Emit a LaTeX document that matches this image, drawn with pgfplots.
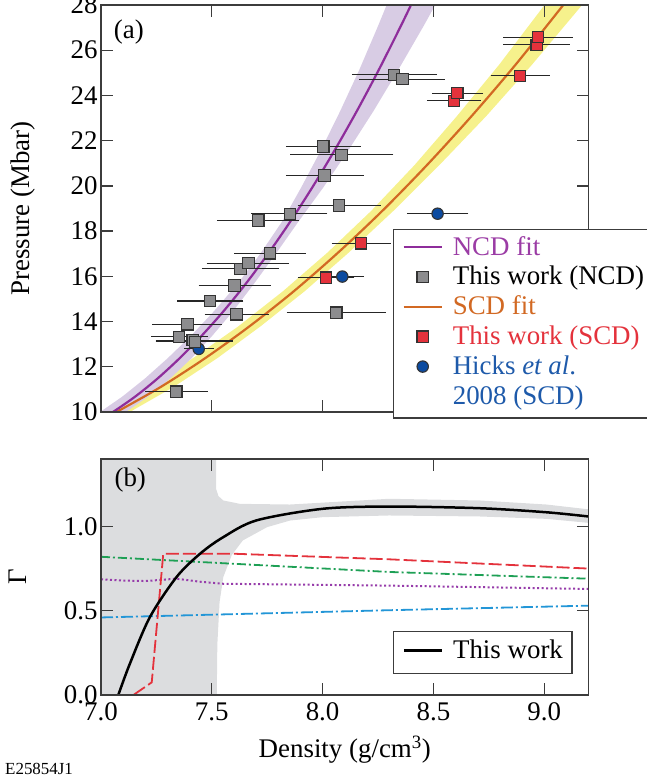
\documentclass[border=0pt]{standalone}
\usepackage{fontspec}
\setmainfont{Liberation Serif}
\usepackage{pgfplots}
\pgfplotsset{compat=1.18}
\usepackage{pgfplotstable}

\definecolor{ncd}{RGB}{142,45,155}
\definecolor{ncdtext}{RGB}{155,60,165}
\definecolor{ncdband}{RGB}{216,204,228}
\definecolor{scd}{RGB}{210,105,35}
\definecolor{scdband}{RGB}{246,241,140}
\definecolor{redA}{RGB}{228,50,60}
\definecolor{blueA}{RGB}{12,75,160}
\definecolor{bluetext}{RGB}{30,90,170}
\definecolor{sqgray}{RGB}{140,140,142}
\definecolor{bandgray}{RGB}{220,221,223}
\definecolor{greenA}{RGB}{30,160,85}
\definecolor{cyanA}{RGB}{35,150,215}
\definecolor{purpA}{RGB}{150,60,170}
\definecolor{axisgray}{RGB}{60,60,60}

\newcommand{\bigf}{\fontsize{27}{30}\selectfont}

\pgfplotstableread{
x y em ep
7.340 10.90 0.122 0.122
7.353 13.32 0.108 0.112
7.390 13.88 0.140 0.138
7.414 13.18 0.148 0.161
7.424 13.10 0.158 0.151
7.492 14.91 0.128 0.132
7.612 14.32 0.125 0.125
8.062 14.39 0.205 0.205
7.602 15.59 0.143 0.146
7.630 16.33 0.156 0.155
7.665 16.58 0.169 0.165
7.763 17.02 0.143 0.143
7.710 18.47 0.168 0.166
7.853 18.76 0.155 0.150
8.075 19.13 0.169 0.169
8.008 20.46 0.155 0.158
8.085 21.37 0.213 0.215
8.003 21.74 0.150 0.151
8.322 24.91 0.171 0.176
8.360 24.72 0.175 0.173
}\ncdtab

\pgfplotstableread{
x y em ep
8.015 15.94 0.109 0.109
8.173 17.46 0.113 0.116
8.593 23.76 0.104 0.102
8.608 24.10 0.096 0.098
8.891 24.87 0.114 0.116
8.966 26.24 0.131 0.131
8.972 26.58 0.137 0.137
}\scdtab

\pgfplotstableread{
x y em ep
7.441 12.79 0.047 0.051
8.089 15.99 0.080 0.080
8.519 18.77 0.120 0.120
}\hickstab

\begin{document}
\begin{tikzpicture}
\pgfplotsset{
  every axis/.append style={
    font=\bigf, scale only axis,
    axis line style={line width=1.3bp, draw=axisgray},
    major tick style={line width=1.3bp, draw=axisgray},
    major tick length=12bp, tick align=inside,
    xtick pos=both, ytick pos=both,
    /pgf/number format/assume math mode=true,
    tick label style={font=\bigf},
  },
  lineleg/.style={legend image code/.code={\draw[##1] (0bp,8bp) -- (38bp,8bp);}},
  markleg/.style={legend image code/.code={\path (0bp,0bp) (38bp,16bp); \draw[##1] plot coordinates {(19bp,8bp)};}},
  myleg/.style={legend style={draw=axisgray, line width=1.2bp, fill=white,
      inner xsep=9bp, column sep=10bp, row sep=0bp,
      nodes={inner sep=0pt, text depth=, text height=}, cells={anchor=base west}, font=\bigf}},
  sqmark/.style={only marks, mark=square*, mark size=5.7bp, mark options={fill=#1, draw=black!80, line width=1.1bp}},
  circmark/.style={only marks, mark=*, mark size=5.7bp, mark options={fill=#1, draw=black!80, line width=1.1bp}},
  xerr/.style={error bars/.cd, x dir=both, x explicit,
      error bar style={line width=1.1bp, black!85},
      error mark options={mark size=4.2bp, line width=1.1bp, black!85}},
}
% ---------------- top panel ----------------
\begin{axis}[at={(101bp,-412bp)}, anchor=south west,
  width=487.5bp, height=407bp,
  xmin=7, xmax=9.2, ymin=10, ymax=28,
  xtick={7,7.5,8,8.5,9}, xticklabels={},
  ytick={10,12,14,16,18,20,22,24,26,28},
  ylabel={Pressure (Mbar)},
  y label style={at={(axis description cs:-0.16,0.5)}, anchor=center},
  axis on top, myleg,
  legend style={at={(0.599,0.4496)}, anchor=north west, inner ysep=4.5bp},
]
\addplot[fill=scdband, draw=none, forget plot] coordinates {
(6.96,9.74)(7.01,10.00)(7.212,11.11)(7.415,12.38)(7.62,13.79)(7.821,15.34)(8.022,17.05)(8.22,18.90)(8.414,20.91)(8.604,23.06)(8.796,25.35)(8.986,27.80)(9.033,28.43)
(9.207,28.43)(9.154,27.80)(8.944,25.35)(8.736,23.06)(8.526,20.91)(8.32,18.90)(8.118,17.05)(7.919,15.34)(7.72,13.79)(7.525,12.38)(7.328,11.11)(7.13,10.00)(7.08,9.74)
} -- cycle;
\addplot[fill=ncdband, draw=none, forget plot] coordinates {
(6.946,9.70)(6.996,10.00)(7.096,10.68)(7.197,11.47)(7.300,12.37)(7.406,13.37)(7.511,14.47)(7.617,15.68)(7.719,17.00)(7.817,18.42)(7.904,19.94)(7.992,21.57)(8.079,23.30)(8.166,25.14)(8.251,27.09)(8.302,28.31)
(8.526,28.31)(8.457,27.09)(8.342,25.14)(8.229,23.30)(8.116,21.57)(8.004,19.94)(7.891,18.42)(7.789,17.00)(7.691,15.68)(7.597,14.47)(7.502,13.37)(7.408,12.37)(7.311,11.47)(7.212,10.68)(7.112,10.00)(7.062,9.70)
} -- cycle;
\addplot[scd, line width=2.2bp, smooth, forget plot] coordinates {
(7.02,9.74)(7.07,10.00)(7.27,11.11)(7.47,12.38)(7.67,13.79)(7.87,15.34)(8.07,17.05)(8.27,18.90)(8.47,20.91)(8.67,23.06)(8.87,25.35)(9.07,27.80)(9.12,28.43)};
\addplot[ncd, line width=2.2bp, smooth, forget plot] coordinates {
(7.004,9.70)(7.054,10.00)(7.154,10.68)(7.254,11.47)(7.354,12.37)(7.454,13.37)(7.554,14.47)(7.654,15.68)(7.754,17.00)(7.854,18.42)(7.954,19.94)(8.054,21.57)(8.154,23.30)(8.254,25.14)(8.354,27.09)(8.414,28.31)};
\addplot[circmark=blueA, forget plot, xerr] table[x=x, y=y, x error minus=em, x error plus=ep] {\hickstab};
\addplot[sqmark=sqgray, forget plot, xerr] table[x=x, y=y, x error minus=em, x error plus=ep] {\ncdtab};
\addplot[sqmark=redA, forget plot, xerr] table[x=x, y=y, x error minus=em, x error plus=ep] {\scdtab};

\addlegendimage{lineleg, ncd, line width=2.2bp}
\addlegendentry{\textcolor{ncdtext}{NCD fit}\strut}
\addlegendimage{markleg, sqmark=sqgray}
\addlegendentry{This work (NCD)\strut}
\addlegendimage{lineleg, scd, line width=2.2bp}
\addlegendentry{\textcolor{scd}{SCD fit}\strut}
\addlegendimage{markleg, sqmark=redA}
\addlegendentry{\textcolor{redA}{This work (SCD)}\strut}
\addlegendimage{markleg, circmark=blueA}
\addlegendentry{\textcolor{bluetext}{\begin{tabular}[t]{@{}l@{}}Hicks \textit{et al}.\\2008 (SCD)\end{tabular}}}

\node[font=\bigf] at (rel axis cs:0.057,0.934) {(a)};
\end{axis}
% ---------------- bottom panel ----------------
\begin{axis}[at={(101bp,-695bp)}, anchor=south west,
  width=487.5bp, height=236bp,
  xmin=7, xmax=9.2, ymin=0, ymax=1.4,
  xtick={7,7.5,8,8.5,9}, ytick={0,0.5,1},
  xticklabel style={/pgf/number format/fixed, /pgf/number format/fixed zerofill, /pgf/number format/precision=1, yshift=-4bp},
  yticklabel style={/pgf/number format/fixed, /pgf/number format/fixed zerofill, /pgf/number format/precision=1},
  xlabel={Density (g/cm\textsuperscript{3})},
  x label style={at={(axis description cs:0.5,-0.233)}, anchor=center},
  ylabel={Γ},
  y label style={at={(axis description cs:-0.17,0.5)}, anchor=center},
  axis on top, myleg,
  legend style={at={(0.599,0.089)}, anchor=south west, inner ysep=6bp},
]
\addplot[fill=bandgray, draw=none, forget plot] coordinates {
(6.99,-0.05)(6.99,1.45)(7.52,1.45)(7.52,1.22)(7.53,1.18)(7.552,1.154)(7.627,1.134)(7.853,1.13)(8.05,1.145)(8.3,1.164)(8.71,1.154)(9.01,1.13)(9.21,1.10)
(9.21,1.02)(9.01,1.045)(8.71,1.059)(8.3,1.065)(8.0,1.055)(7.853,1.035)(7.75,0.996)(7.64,0.917)(7.59,0.83)(7.552,0.70)(7.535,0.55)(7.525,0.3)(7.522,-0.05)
} -- cycle;
\addplot[cyanA, line width=1.8bp, dash pattern=on 12bp off 3bp on 2bp off 3bp, forget plot] coordinates {(7.0,0.46)(8.3,0.503)(9.2,0.53)};
\addplot[purpA, line width=2bp, dash pattern=on 2bp off 2.5bp, forget plot] coordinates {(7.0,0.686)(7.1,0.679)(7.2,0.676)(7.34,0.69)(7.447,0.672)(7.55,0.66)(8.3,0.649)(9.2,0.629)};
\addplot[greenA, line width=1.8bp, dash pattern=on 9bp off 3bp on 2bp off 3bp, forget plot] coordinates {(7.0,0.82)(8.3,0.73)(9.2,0.69)};
\addplot[redA, line width=1.8bp, dash pattern=on 13bp off 4bp, forget plot] coordinates {(7.09,-0.06)(7.146,0)(7.229,0.075)(7.281,0.838)(7.6,0.838)(8.3,0.805)(9.2,0.75)};
\addplot[black, line width=2.5bp, smooth, lineleg] coordinates {
(7.065,-0.05)(7.078,0)(7.131,0.188)(7.221,0.463)(7.341,0.70)(7.447,0.838)(7.55,0.935)(7.702,1.036)(8.003,1.105)(8.304,1.118)(8.71,1.108)(9.01,1.084)(9.2,1.059)};
\addlegendentry{This work\strut}
\node[font=\bigf] at (rel axis cs:0.06,0.911) {(b)};
\end{axis}
\node[anchor=base west, font=\fontsize{17}{20}\selectfont, inner sep=0pt] at (5bp,-774bp) {E25854J1};
\pgfresetboundingbox
\path[use as bounding box] (0bp,0bp) rectangle (647bp,-778bp);
\end{tikzpicture}
\end{document}
